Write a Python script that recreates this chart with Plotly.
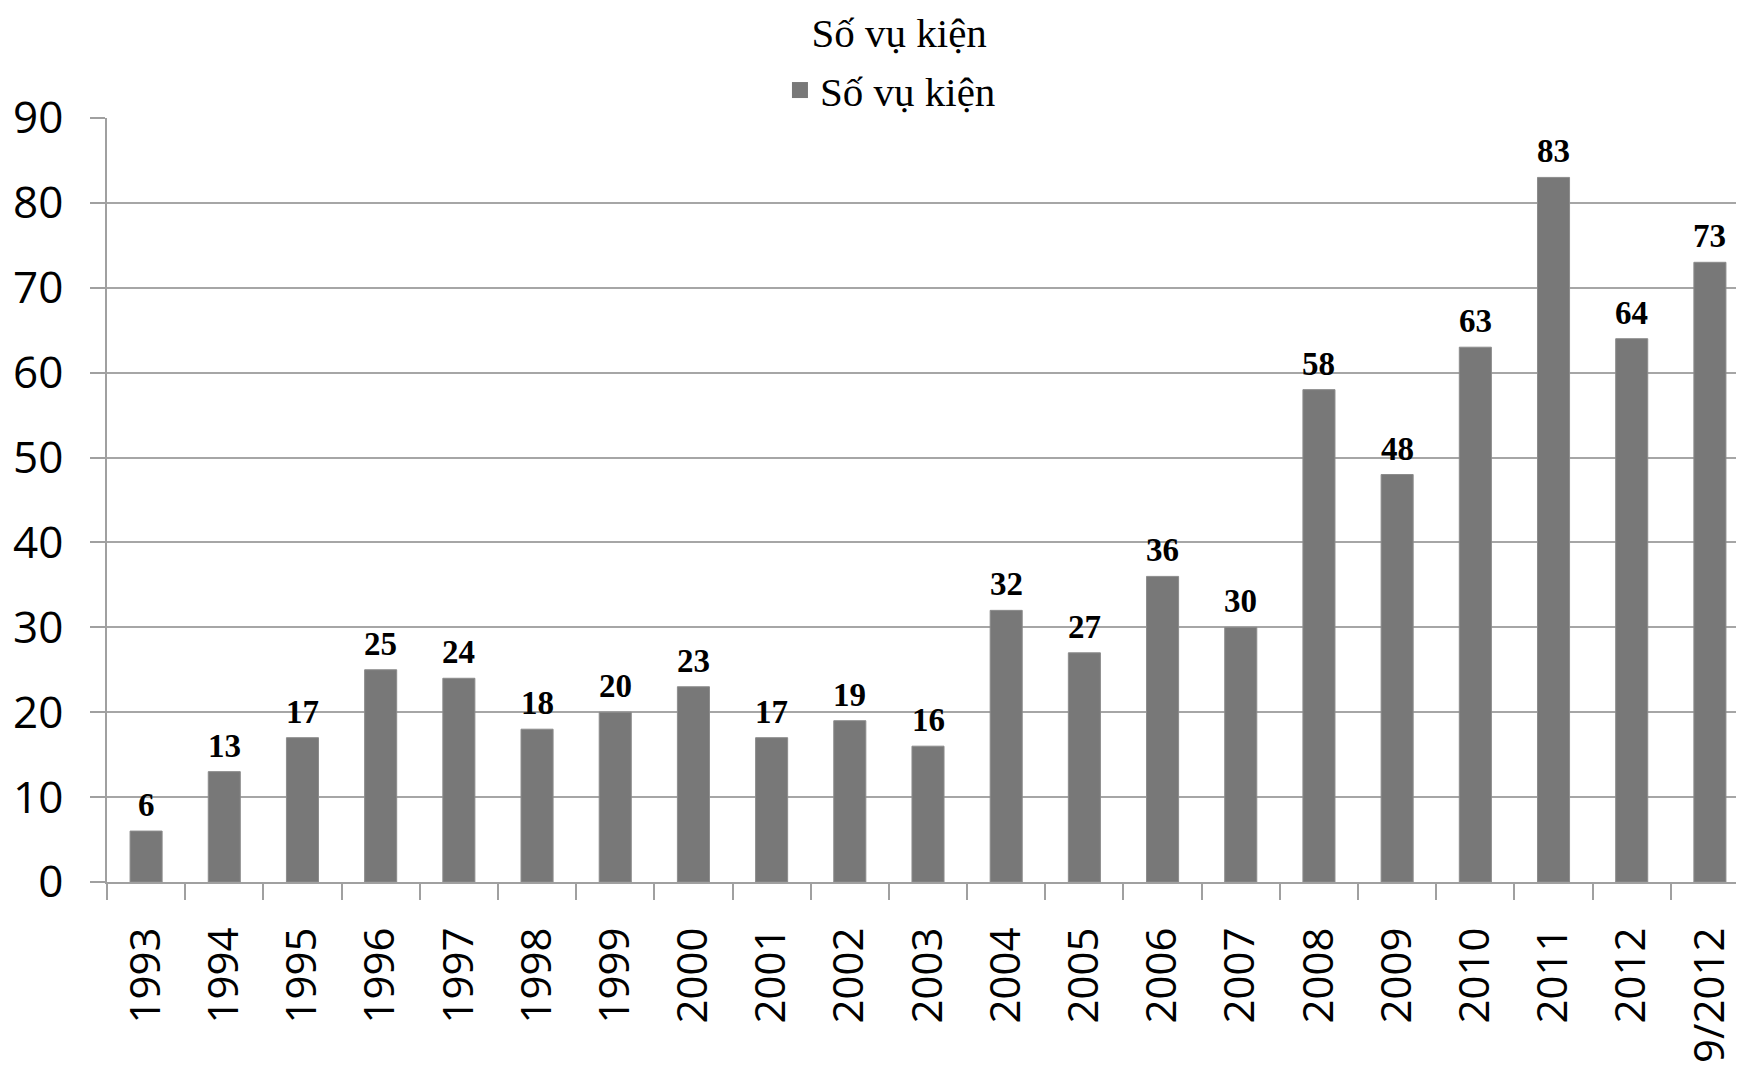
import plotly.graph_objects as go

# categories and values
years = ["1993", "1994", "1995", "1996", "1997", "1998", "1999", "2000", "2001", "2002",
         "2003", "2004", "2005", "2006", "2007", "2008", "2009", "2010", "2011", "2012", "9/2012"]
cases = [6, 13, 17, 25, 24, 18, 20, 23, 17, 19, 16, 32, 27, 36, 30, 58, 48, 63, 83, 64, 73]
series_name = "Số vụ kiện"
title_text = "Số vụ kiện"
y_ticks = [0, 10, 20, 30, 40, 50, 60, 70, 80, 90]

BAR = "#787878"

fig = go.Figure()

fig.add_trace(go.Bar(
    x=years, y=cases,
    name=series_name,
    marker=dict(color=BAR, line=dict(color="#8c8c8c", width=1)),
    showlegend=False,
))

# legend entry with a bigger square swatch
fig.add_trace(go.Scatter(
    x=[years[0]], y=[None], mode="markers", name=series_name,
    marker=dict(symbol="square", size=21, color=BAR),
))

# value labels above bars (category axis -> annotation x is the category index)
for i, v in enumerate(cases):
    fig.add_annotation(x=i, y=v, text=f"<b>{v}</b>", showarrow=False,
                       yanchor="bottom", yshift=6,
                       font=dict(family="Liberation Serif", size=33, color="black"))

fig.update_layout(
    width=1744, height=1070,
    margin=dict(l=99, r=3, t=110, b=196, autoexpand=False),
    paper_bgcolor="white", plot_bgcolor="white",
    bargap=0.59,
    title=dict(text=title_text, x=0.511, xanchor="center", y=0.9766, yanchor="middle",
               font=dict(family="Liberation Serif", size=41, color="black")),
    legend=dict(orientation="h", xref="container", yref="container",
                x=0.506, xanchor="center", y=0.923, yanchor="middle",
                font=dict(family="Liberation Serif", size=41, color="black"),
                itemwidth=30),
    xaxis=dict(
        type="category",
        categoryorder="array", categoryarray=years,
        range=[-0.5, len(years) - 0.5],
        automargin=False,
        tickangle=-90,
        tickson="boundaries",
        ticks="outside", ticklen=16, tickcolor="#a0a0a0", tickwidth=1.5,
        showline=True, linecolor="#a0a0a0", linewidth=1.5,
        showgrid=False,
        ticklabelstandoff=27,
        tickfont=dict(family="Open Sans", size=42, color="black"),
    ),
    yaxis=dict(
        range=[0, 90],
        automargin=False,
        tickvals=y_ticks,
        ticks="outside", ticklen=15, tickcolor="#a0a0a0", tickwidth=1.5,
        showline=True, linecolor="#a0a0a0", linewidth=1.5,
        showgrid=True, gridcolor="#a6a6a6", gridwidth=1.5,
        zeroline=False,
        ticklabelstandoff=18,
        tickfont=dict(family="Open Sans", size=44, color="black"),
    ),
)

fig.write_html("out.html")
